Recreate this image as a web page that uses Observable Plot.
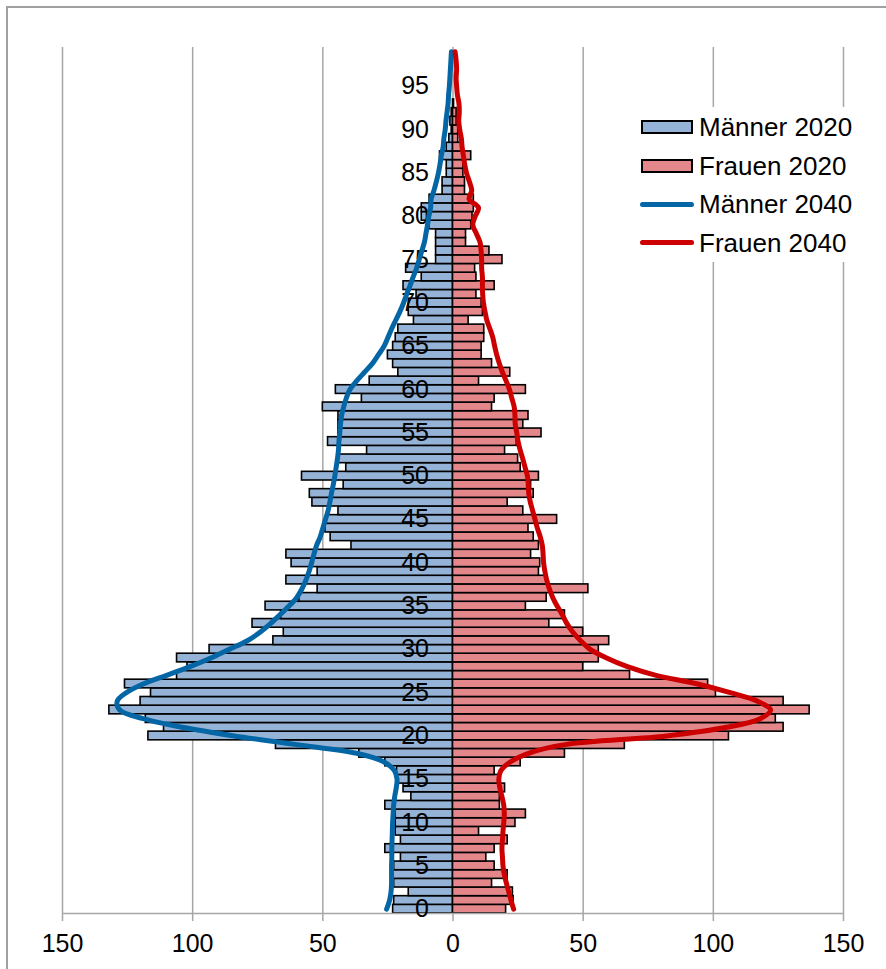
<!DOCTYPE html>
<html>
<head>
<meta charset="utf-8">
<script src="https://cdn.jsdelivr.net/npm/d3@7"></script>
<script src="https://cdn.jsdelivr.net/npm/@observablehq/plot@0.6"></script>
<style>
  body { margin: 0; background: #fff; font-family: "Liberation Sans", Arial, sans-serif; }
  #wrap { position: relative; width: 886px; height: 969px; overflow: hidden; background: #fff; }
  #frame { position: absolute; left: 6px; top: 6px; width: 920px; height: 1000px; border: 2px solid #a0a0a0; box-sizing: border-box; }
  #chart { position: absolute; left: 0; top: 0; }
  #legend { position: absolute; left: 636px; top: 107px; width: 226px; height: 155px; background: #fff; }
  .item { position: absolute; left: 0; height: 30px; width: 226px; }
  .sw { position: absolute; left: 5px; top: 8px; width: 52px; height: 14px; box-sizing: border-box; border: 2px solid #000; }
  .ln { position: absolute; left: 4px; top: 12.5px; width: 54px; height: 5px; border-radius: 3px; }
  .lab { position: absolute; left: 63px; top: 0; font-size: 26px; line-height: 30px; color: #000; white-space: nowrap; }
</style>
</head>
<body>
<div id="wrap">
  <div id="frame"></div>
  <div id="chart"></div>
  <div id="legend"></div>
</div>
<script>
// ---- Data (values in thousands, by age 0..99) ----
const ages = d3.range(0, 100);
const male2020 = [23,22.6,17,22.6,22.8,22.6,20,26,20,22, 22,22,26,16,19,21.5,21.5,26,36,68,
  117,111,118,132,120,116,126,106,102,106, 93.5,69,65,77,66,72,59,52,64,52,
  62,64,39,47,49,48.6,44,54,55,42, 58,41,44,33,48,44,44,44,50,35,
  45,32,21,23,25,23,22,21,15,17, 17,14,19,12,18,6.5,6.5,6.5,6.5,9,
  12,12,9,4,4,2.4,2.4,5,2.4,1.4, 0.5,1,0.5,0,0,0,0,0,0,0];
const female2020 = [20.4,23.3,23,15,21,16,12.8,16,21,10, 24,28,18,18,20,17.5,16,26,43,66,
  106,127,124,137,127,101,98,68,50,56, 56,60,50,37,43,28,36,52,36,33,
  33.5,30,33,31,29,40,27,21,31,30, 33,26,25,20,24.5,34,27,29,15,16,
  28,10,22,15,11,11,12,12,6,11.5, 11,9,16,9,8.5,19,14,5,5,7,
  7.5,8,8,4.6,4.6,4,4,7,4,2, 2,1.4,1.4,0.4,0,0,0,0,0,0];
const male2040 = [25.5,24.4,23.8,23.6,23.6,23.6,23.5,23.5,23.4,23.3, 23.2,23,22.8,22.4,21.8,21.5,22.5,26.5,37,60,
  84,104,119,128,129,125.5,119,110,101,93, 86,79,74,70,66.5,63,60,58,56.5,55.3,
  54.3,53.4,52.4,51,50,49,48,47.3,46.7,46, 45.4,44.9,44.4,44,43.8,43.5,43.2,42.8,42,41,
  39.6,37,34,31,28.7,26.5,25,23.6,22,20.4, 19,17.8,16.5,15.3,14,13,12,11,10.4,9.8,
  9.3,8.6,8.4,7.3,6.4,5.6,5,4.5,3.8,3.5, 3,2.7,2.3,1.9,1.7,1.4,1.2,1,0.8,0.6];
const female2040 = [23.3,22.3,21.4,20.5,19.7,19.2,19,18.8,19,19.2, 19.5,19.7,19.5,18.8,18,17.6,18.4,22,29,43,
  82,105,118,122,117,106.5,94,78,67,59, 52.7,49,46,43.7,42,40,38.3,37,36,35.3,
  34.8,34.6,34.3,33.5,32.4,31.5,30.6,29.7,29.1,28.9, 28.6,27.7,26.8,25.8,25,24.5,23.9,23.8,23.5,22.6,
  21.7,20.4,19,17.8,16.8,16,15.3,14.2,13,12.3, 11.7,11.4,11.3,11.3,11,11,10.8,10.4,9,7.6,
  8.5,9.8,6.2,7.2,6.3,5.2,4.5,4,3.5,3.2, 2.6,2.2,2.4,2.3,1.7,1.4,1.2,1.4,1.2,0.8];
const yTickAges = [0,5,10,15,20,25,30,35,40,45,50,55,60,65,70,75,80,85,90,95];
const xTicks = [-150,-100,-50,0,50,100,150];
const xDomain = [-150, 150];
const yDomain = [-0.5, 99.5];
const seriesNames = ["Männer 2020", "Frauen 2020", "Männer 2040", "Frauen 2040"];
const colors = {m20: "#95b3d7", f20: "#e4878a", m40: "#0566a6", f40: "#cc0000"};

const rows = ages.map((a, i) => ({age: a, m20: male2020[i], f20: female2020[i], m40: male2040[i], f40: female2040[i]}));

const chart = Plot.plot({
  width: 886,
  height: 969,
  marginLeft: 62,
  marginRight: 43,
  marginTop: 47,
  marginBottom: 56,
  style: {fontFamily: "'Liberation Sans', Arial, sans-serif", background: "transparent", overflow: "visible"},
  x: {domain: xDomain, axis: null},
  y: {domain: yDomain, axis: null},
  marks: [
    Plot.gridX(xTicks, {stroke: "#a6a6a6", strokeOpacity: 1, strokeWidth: 1.5}),
    Plot.rectX(rows, {x1: 0, x2: d => -d.m20, y1: d => d.age - 0.5, y2: d => d.age + 0.5,
      fill: colors.m20, stroke: "#000", strokeWidth: 1.6}),
    Plot.rectX(rows, {x1: 0, x2: d => d.f20, y1: d => d.age - 0.5, y2: d => d.age + 0.5,
      fill: colors.f20, stroke: "#000", strokeWidth: 1.6}),
    Plot.ruleY([yDomain[0]], {stroke: "#a6a6a6", strokeWidth: 1.5}),
    Plot.axisX(xTicks, {tickFormat: d => String(Math.abs(d)), tickSize: 8, tickPadding: 13,
      fontSize: 25, stroke: "#a6a6a6", strokeWidth: 1.5, fill: "#000", label: null}),
    Plot.text(yTickAges, {x: 0, y: d => d, text: d => String(d), dx: -24, textAnchor: "end",
      fontSize: 25, fill: "#000"}),
    Plot.line(rows, {x: d => -d.m40, y: "age", stroke: colors.m40, strokeWidth: 5, curve: "catmull-rom"}),
    Plot.line(rows, {x: d => d.f40, y: "age", stroke: colors.f40, strokeWidth: 5, curve: "catmull-rom"})
  ]
});
document.getElementById("chart").appendChild(chart);

// Legend
const legend = document.getElementById("legend");
const kinds = [
  {kind: "sw", color: colors.m20},
  {kind: "sw", color: colors.f20},
  {kind: "ln", color: colors.m40},
  {kind: "ln", color: colors.f40}
];
seriesNames.forEach((name, i) => {
  const item = document.createElement("div");
  item.className = "item";
  item.style.top = (5 + i * 38.6) + "px";
  const s = document.createElement("div");
  s.className = kinds[i].kind;
  s.style.background = kinds[i].color;
  item.appendChild(s);
  const t = document.createElement("div");
  t.className = "lab";
  t.textContent = name;
  item.appendChild(t);
  legend.appendChild(item);
});
</script>
</body>
</html>
